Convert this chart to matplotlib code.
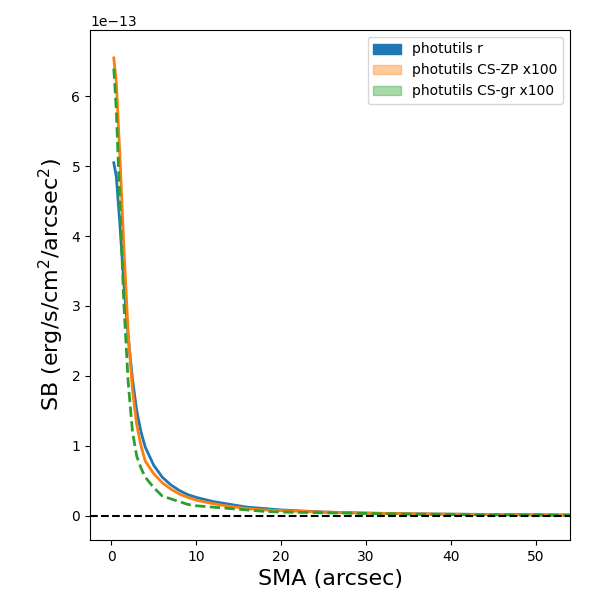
import matplotlib
matplotlib.use("Agg")
import matplotlib.pyplot as plt
from matplotlib.patches import Patch
import numpy as np

sma = [0.3,0.6,1,1.5,2,2.5,3,3.5,4,5,6,7,8,9,10,12,14,16,18,20,25,30,35,40,45,50,54]
sb_r = [5.05,4.85,4.2,3.3,2.55,1.95,1.5,1.2,0.98,0.72,0.55,0.44,0.36,0.30,0.26,0.20,0.16,0.12,0.10,0.08,0.05,0.035,0.025,0.02,0.015,0.01,0.008]
sb_zp = [6.55,6.2,5.2,3.8,2.6,1.8,1.3,1.0,0.78,0.6,0.47,0.38,0.31,0.26,0.22,0.17,0.13,0.10,0.08,0.07,0.05,0.035,0.025,0.02,0.015,0.01,0.005]
sb_gr = [6.4,5.8,4.5,3.0,1.9,1.2,0.85,0.68,0.55,0.4,0.28,0.24,0.2,0.16,0.14,0.12,0.1,0.08,0.06,0.05,0.04,0.03,0.02,0.015,0.01,0.01,0.005]
labels = ["photutils r", "photutils CS-ZP x100", "photutils CS-gr x100"]

scale = 1e-13
fig, ax = plt.subplots(figsize=(6, 6), dpi=100)
ax.plot(sma, np.array(sb_r)*scale, color="C0", lw=2)
ax.plot(sma, np.array(sb_zp)*scale, color="C1", lw=2)
ax.plot(sma, np.array(sb_gr)*scale, color="C2", lw=2, ls="--")
ax.axhline(0, color="k", ls="--")
ax.set_xlim(-2.5, 54)
ax.set_ylim(-0.35e-13, 6.95e-13)
ax.set_xlabel("SMA (arcsec)", fontsize=16)
ax.set_ylabel(r"SB (erg/s/cm$^2$/arcsec$^2$)", fontsize=16)
handles = [Patch(color="C0"), Patch(color="C1", alpha=0.4), Patch(color="C2", alpha=0.4)]
ax.legend(handles, labels, loc="upper right")
fig.subplots_adjust(left=0.15, right=0.95, top=0.95, bottom=0.1)
fig.savefig("out.png")
